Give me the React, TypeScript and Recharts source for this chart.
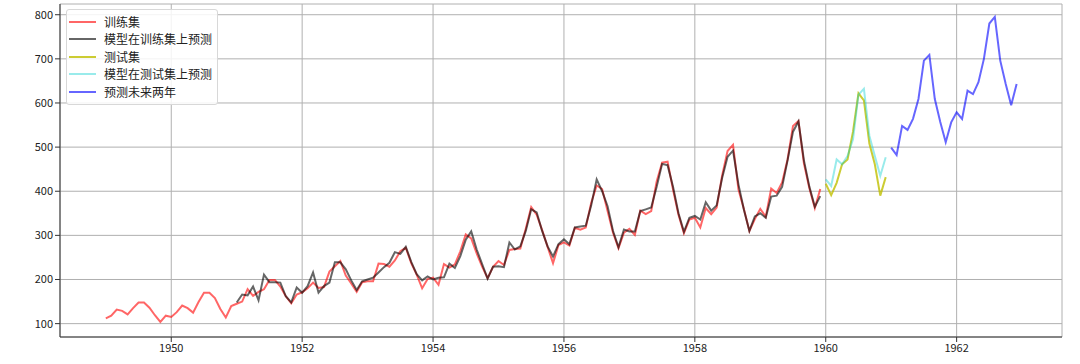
import React from 'react';
import { LineChart, Line, XAxis, YAxis, CartesianGrid } from 'recharts';

// monthly values, Jan..Dec
const trainValues = [
  112, 118, 132, 129, 121, 135, 148, 148, 136, 119, 104, 118,
  115, 126, 141, 135, 125, 149, 170, 170, 158, 133, 114, 140,
  145, 150, 178, 163, 172, 178, 199, 199, 184, 162, 146, 166,
  171, 180, 193, 181, 183, 218, 230, 242, 209, 191, 172, 194,
  196, 196, 236, 235, 229, 243, 264, 272, 237, 211, 180, 201,
  204, 188, 235, 227, 234, 264, 302, 293, 259, 229, 203, 229,
  242, 233, 267, 269, 270, 315, 364, 347, 312, 274, 237, 278,
  284, 277, 317, 313, 318, 374, 413, 405, 355, 306, 271, 306,
  315, 301, 356, 348, 355, 422, 465, 467, 404, 347, 305, 336,
  340, 318, 362, 348, 363, 435, 491, 505, 404, 359, 310, 337,
  360, 342, 406, 396, 420, 472, 548, 559, 463, 407, 362, 405,
];

// model fit on training set, 1951..1959
const trainPredValues = [
  148, 166, 164, 184, 153, 211, 194, 194, 193, 162, 148, 182,
  170, 185, 216, 170, 185, 193, 239, 239, 223, 198, 176, 196,
  200, 204, 216, 228, 238, 262, 258, 274, 240, 212, 198, 207,
  200, 204, 205, 236, 226, 253, 290, 309, 268, 235, 202, 229,
  230, 228, 284, 268, 275, 310, 359, 352, 310, 275, 252, 280,
  291, 280, 318, 320, 322, 368, 427, 400, 366, 310, 273, 313,
  309, 309, 355, 359, 363, 410, 462, 459, 410, 350, 308, 340,
  344, 336, 375, 356, 368, 430, 478, 492, 415, 358, 310, 343,
  350, 340, 388, 390, 410, 470, 535, 558, 470, 410, 365, 389,
];

const testValues = [417, 391, 419, 461, 472, 535, 622, 606, 508, 461, 390, 432];
const testPredValues = [427, 412, 472, 461, 480, 518, 619, 632, 526, 480, 435, 477];

// forecast 1961..1962
const futureValues = [
  499, 482, 548, 539, 564, 609, 696, 709, 609, 557, 511, 556,
  579, 564, 628, 620, 647, 700, 780, 795, 696, 643, 595, 643,
];

const xTicks = [1950, 1952, 1954, 1956, 1958, 1960, 1962];
const yTicks = [100, 200, 300, 400, 500, 600, 700, 800];

const seriesInfo = [
  { key: 'train', name: '训练集', color: '#ff0000', opacity: 0.6 },
  { key: 'trainPred', name: '模型在训练集上预测', color: '#000000', opacity: 0.6 },
  { key: 'test', name: '测试集', color: '#bfbf00', opacity: 0.8 },
  { key: 'testPred', name: '模型在测试集上预测', color: '#00cccc', opacity: 0.4 },
  { key: 'future', name: '预测未来两年', color: '#0000ff', opacity: 0.6 },
];

const data = Array.from({ length: 168 }, (_, i) => ({
  x: 1949 + i / 12,
  train: i < 132 ? trainValues[i] : undefined,
  trainPred: i >= 24 && i < 132 ? trainPredValues[i - 24] : undefined,
  test: i >= 132 && i < 144 ? testValues[i - 132] : undefined,
  testPred: i >= 132 && i < 144 ? testPredValues[i - 132] : undefined,
  future: i >= 144 ? futureValues[i - 144] : undefined,
}));

const font = '"Noto Sans CJK SC", "Noto Sans", sans-serif';
const tickStyle = { fill: '#222', fontSize: 11, fontFamily: font };

const LegendBox = () => (
  <div
    style={{
      position: 'absolute',
      left: 66,
      top: 9,
      border: '1px solid #d8d8d8',
      borderRadius: 3,
      background: 'rgba(255,255,255,0.85)',
      padding: '3px 5px 3px 2px',
      fontFamily: font,
      fontSize: 12,
      color: '#222',
      lineHeight: 1,
    }}
  >
    {seriesInfo.map((s) => (
      <div key={s.key} style={{ display: 'flex', alignItems: 'center', height: 17.5 }}>
        <svg width={27} height={4} style={{ marginRight: 8 }}>
          <line x1={0} y1={2} x2={27} y2={2} stroke={s.color} strokeOpacity={s.opacity} strokeWidth={2} />
        </svg>
        <span>{s.name}</span>
      </div>
    ))}
  </div>
);

const App: React.FC = () => {
  return (
    <div style={{ position: 'absolute', left: 0, top: 0, width: 1080, height: 364, background: '#fff' }}>
      <LineChart width={1080} height={364} data={data} margin={{ top: 4, right: 18, left: 0, bottom: 0 }}>
        <CartesianGrid stroke="#b0b0b0" strokeWidth={1} />
        <XAxis
          dataKey="x"
          type="number"
          domain={[1948.3, 1963.61]}
          ticks={xTicks}
          tick={tickStyle}
          tickSize={5}
          height={27}
          stroke="#333"
          allowDataOverflow
        />
        <XAxis xAxisId="top" orientation="top" dataKey="x" type="number" domain={[1948.3, 1963.61]} tick={false} tickLine={false} height={0} stroke="#333" />
        <YAxis
          type="number"
          domain={[69.7, 824.3]}
          ticks={yTicks}
          tick={tickStyle}
          tickSize={5}
          width={60}
          stroke="#333"
          allowDataOverflow
        />
        <YAxis yAxisId="right" orientation="right" domain={[69.7, 824.3]} tick={false} tickLine={false} width={0} stroke="#333" />
        {seriesInfo.map((s) => (
          <Line
            key={s.key}
            dataKey={s.key}
            name={s.name}
            type="linear"
            stroke={s.color}
            strokeOpacity={s.opacity}
            strokeWidth={2}
            dot={false}
            activeDot={false}
            isAnimationActive={false}
          />
        ))}
      </LineChart>
      <LegendBox />
    </div>
  );
};

export default App;
